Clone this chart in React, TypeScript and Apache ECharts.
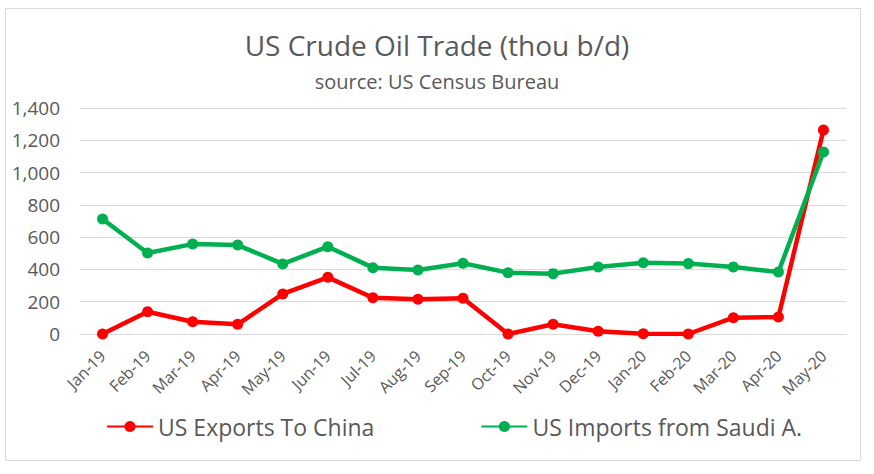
import React, { useEffect, useRef } from "react";
import * as echarts from "echarts";

const categories = [
  "Jan-19", "Feb-19", "Mar-19", "Apr-19", "May-19", "Jun-19", "Jul-19", "Aug-19", "Sep-19",
  "Oct-19", "Nov-19", "Dec-19", "Jan-20", "Feb-20", "Mar-20", "Apr-20", "May-20",
];
const exportsToChina = [0, 138, 76, 60, 248, 351, 225, 215, 221, 0, 60, 17, 2, 0, 101, 105, 1264];
const importsFromSaudi = [712, 502, 557, 551, 434, 541, 411, 396, 438, 380, 374, 415, 442, 436, 415, 384, 1127];
const yTicks = [0, 200, 400, 600, 800, 1000, 1200, 1400];

const FONT = "'Open Sans', 'Noto Sans', sans-serif";
const TEXT = "#595959";

export default function App() {
  const ref = useRef<HTMLDivElement>(null);
  useEffect(() => {
    if (!ref.current) return;
    const chart = echarts.init(ref.current, undefined, { renderer: "svg" });
    chart.setOption({
      animation: false,
      backgroundColor: "#ffffff",
      textStyle: { fontFamily: FONT },
      title: {
        text: "US Crude Oil Trade (thou b/d)",
        subtext: "source: US Census Bureau",
        left: "center",
        top: 26,
        itemGap: 12,
        textStyle: { fontFamily: FONT, fontSize: 28, fontWeight: "normal", color: TEXT },
        subtextStyle: { fontFamily: FONT, fontSize: 20, color: TEXT },
      },
      graphic: [
        {
          type: "rect",
          shape: { x: 5.5, y: 8.5, width: 855, height: 452 },
          style: { fill: "none", stroke: "#d9d9d9", lineWidth: 1 },
          silent: true,
        },
      ],
      legend: {
        top: 410,
        left: 101,
        itemWidth: 46,
        itemHeight: 14,
        itemGap: 106,
        textStyle: { fontFamily: FONT, fontSize: 23, color: TEXT },
        data: ["US Exports To China", "US Imports from Saudi A."],
      },
      grid: { left: 80, right: 28, top: 108, bottom: 140 },
      xAxis: {
        type: "category",
        data: categories,
        boundaryGap: true,
        axisLine: { lineStyle: { color: "#d9d9d9", width: 1 } },
        axisTick: { show: false },
        axisLabel: { rotate: 45, fontSize: 16, color: TEXT, margin: 19, interval: 0, fontFamily: FONT },
      },
      yAxis: {
        type: "value",
        min: yTicks[0],
        max: yTicks[yTicks.length - 1],
        interval: 200,
        axisLine: { show: false },
        axisTick: { show: false },
        splitLine: { lineStyle: { color: "#d9d9d9", width: 1 } },
        axisLabel: {
          fontSize: 19,
          color: TEXT,
          margin: 20,
          fontFamily: FONT,
          formatter: (v: number) => v.toLocaleString("en-US"),
        },
      },
      series: [
        {
          name: "US Exports To China",
          type: "line",
          data: exportsToChina,
          color: "#ff0000",
          symbol: "circle",
          symbolSize: 11,
          lineStyle: { width: 4.5, color: "#ff0000" },
          itemStyle: { color: "#ff0000" },
        },
        {
          name: "US Imports from Saudi A.",
          type: "line",
          data: importsFromSaudi,
          color: "#00b050",
          symbol: "circle",
          symbolSize: 11,
          lineStyle: { width: 4.5, color: "#00b050" },
          itemStyle: { color: "#00b050" },
        },
      ],
    });
    return () => chart.dispose();
  }, []);
  return (
    <div
      ref={ref}
      style={{ position: "fixed", left: 0, top: 0, width: 874, height: 474 }}
    />
  );
}
